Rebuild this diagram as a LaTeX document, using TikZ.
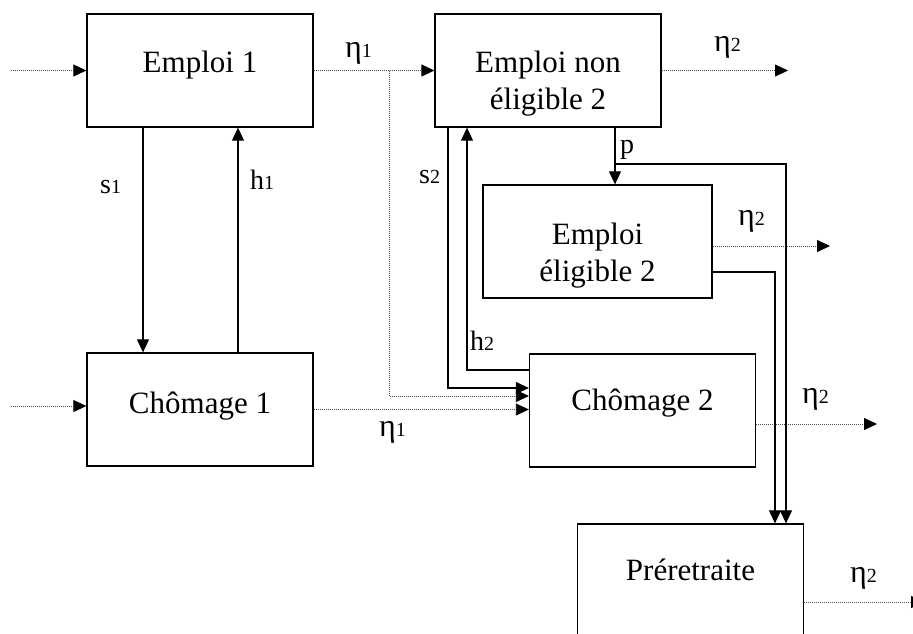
\documentclass[tikz,border=0pt]{standalone}
\usepackage{fontspec}
\setmainfont{Liberation Serif}
\usetikzlibrary{arrows.meta,positioning}
\newcommand{\etich}[2]{#1{\fontsize{20}{20}\selectfont #2}}
\newcommand{\etagr}{{\fontsize{32}{32}\selectfont η}}

\begin{document}
\begin{tikzpicture}[x=1pt, y=-1pt,
    scatola/.style={draw, line width=1.3pt, minimum width=226pt, minimum height=113pt, inner sep=0pt},
    testo/.style={font=\fontsize{31}{37}\selectfont, align=center, inner sep=0pt, anchor=north},
    etichetta/.style={font=\fontsize{28}{28}\selectfont, inner sep=0pt, anchor=base west},
    freccia/.style={line width=1.1pt, -{Triangle[length=13pt, width=12pt]}},
    punti/.style={line width=0.8pt, draw=black!70, dash pattern=on 1pt off 1pt,
        -{Triangle[length=13pt, width=12pt, color=black]}}]

    \useasboundingbox (0,0) rectangle (913,633);
    \clip (0,0) rectangle (913,633);

    % Scatole
    \node[scatola] (e1) at (200,70.5) {};
    \node[scatola] (ene) at (548,70.5) {};
    \node[scatola, minimum width=229pt] (ee2) at (597.5,241.5) {};
    \node[scatola] (c1) at (200,409.5) {};
    \node[scatola] (c2) at (642.5,410.5) {};
    \node[scatola] (pr) at (690.5,580.5) {};

    % Testi
    \node[testo, below=37pt of e1.north] (te1) {Emploi 1};
    \node[testo, below=37pt of ene.north] (tene) {Emploi non\\éligible 2};
    \node[testo, below=38pt of ee2.north] (tee2) {Emploi\\éligible 2};
    \node[testo, below=39pt of c1.north] (tc1) {Chômage 1};
    \node[testo, below=35pt of c2.north] (tc2) {Chômage 2};
    \node[testo, below=35pt of pr.north] (tpr) {Préretraite};

    % Punti di passaggio
    \coordinate (in1) at (11,70.5);
    \coordinate (in2) at (11,406);
    \coordinate (br) at (389,70.5);
    \coordinate (j1) at (389,396);
    \coordinate (s1) at (143,0);
    \coordinate (h1) at (238,0);
    \coordinate (s2) at (448,388);
    \coordinate (h2) at (467,370);
    \coordinate (p) at (615,164);
    \coordinate (p2) at (786,164);
    \coordinate (q) at (775,272);
    \coordinate (o1) at (788,70.5);
    \coordinate (o2) at (830,246);
    \coordinate (o3) at (877,424);
    \coordinate (o4) at (924,602);

    % Flussi tratteggiati
    \draw[punti] (in1) -- (e1.west);
    \draw[punti] (in2) -- (in2 -| c1.west);
    \draw[punti] (e1.east) -- (ene.west);
    \draw[punti] (br) -- (j1) -- (j1 -| c2.west);
    \draw[punti] (c1.east) -- (c1.east -| c2.west);
    \draw[punti] (ene.east) -- (o1);
    \draw[punti] (o2 -| ee2.east) -- (o2);
    \draw[punti] (o3 -| c2.east) -- (o3);
    \draw[punti] (o4 -| pr.east) -- (o4);

    % Flussi continui
    \draw[freccia] (e1.south -| s1) -- (c1.north -| s1);
    \draw[freccia] (c1.north -| h1) -- (e1.south -| h1);
    \draw[freccia] (ene.south -| s2) -- (s2) -- (s2 -| c2.west);
    \draw[freccia] (h2 -| c2.west) -- (h2) -- (ene.south -| h2);
    \draw[freccia] (ene.south -| p) -- (ee2.north -| p);
    \draw[freccia] (p) -- (p2) -- (pr.north -| p2);
    \draw[freccia] (q -| ee2.east) -- (q) -- (pr.north -| q);

    % Etichette
    \node[etichetta] (lu1) at (345,57) {\etich{\etagr}{1}};
    \node[etichetta] (ls1) at (100,193) {\etich{s}{1}};
    \node[etichetta] (lh1) at (250,189) {\etich{h}{1}};
    \node[etichetta] (ls2) at (419,183) {\etich{s}{2}};
    \node[etichetta] (lu2) at (714,51) {\etich{\etagr}{2}};
    \node[etichetta] (lp) at (620,153) {p};
    \node[etichetta] (lu3) at (738,225) {\etich{\etagr}{2}};
    \node[etichetta] (lh2) at (470,350) {\etich{h}{2}};
    \node[etichetta] (lu4) at (379,436) {\etich{\etagr}{1}};
    \node[etichetta] (lu5) at (802,403) {\etich{\etagr}{2}};
    \node[etichetta] (lu6) at (850,582) {\etich{\etagr}{2}};

\end{tikzpicture}
\end{document}
